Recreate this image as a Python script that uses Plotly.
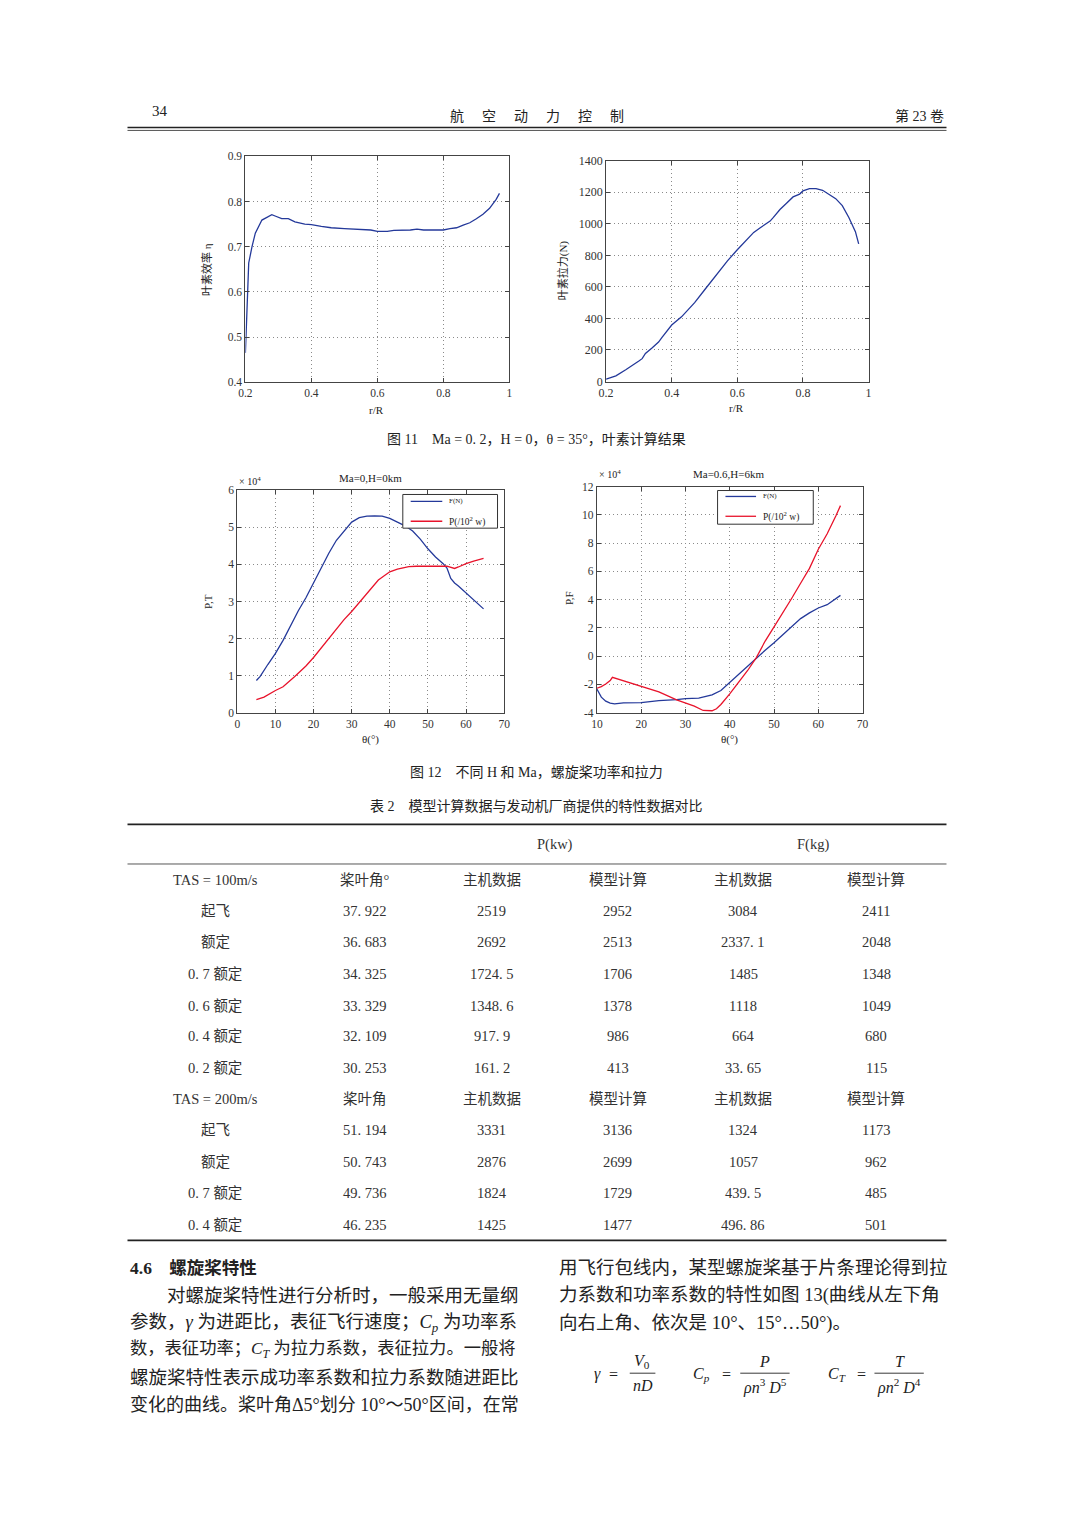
import plotly.graph_objects as go

# page is 1071x1515; the browser body keeps its default 8px margin,
# so the figure is 16px smaller and every position is shifted by 8px.
PAGE_W, PAGE_H = 1071, 1515
M = 8
W, H = PAGE_W - 2 * M, PAGE_H - 2 * M
SERIF = "Liberation Serif, Noto Sans CJK SC, serif"
TXT = "#222222"
BLUE = "#24399a"
RED = "#e8132b"

# ---------------- data ----------------
# Fig 11 left: blade element efficiency vs r/R
r1 = [0.20, 0.21, 0.22, 0.23, 0.25, 0.27, 0.28, 0.29, 0.31, 0.33, 0.35, 0.38, 0.40, 0.43,
      0.46, 0.50, 0.53, 0.55, 0.58, 0.60, 0.63, 0.65, 0.68, 0.70, 0.72, 0.74, 0.77, 0.80,
      0.82, 0.84, 0.86, 0.88, 0.90, 0.92, 0.94, 0.96, 0.97]
eta = [0.465, 0.664, 0.700, 0.730, 0.759, 0.768, 0.771, 0.768, 0.762, 0.762, 0.755, 0.750,
       0.749, 0.745, 0.742, 0.740, 0.739, 0.737, 0.737, 0.734, 0.734, 0.736, 0.736, 0.737,
       0.739, 0.737, 0.737, 0.737, 0.740, 0.742, 0.748, 0.753, 0.762, 0.772, 0.785, 0.805, 0.818]

# Fig 11 right: blade element thrust (N) vs r/R
r2 = [0.20, 0.23, 0.26, 0.28, 0.30, 0.31, 0.32, 0.34, 0.36, 0.37, 0.39, 0.40, 0.43, 0.45,
      0.47, 0.50, 0.53, 0.55, 0.57, 0.60, 0.63, 0.65, 0.67, 0.70, 0.71, 0.73, 0.75, 0.77,
      0.79, 0.80, 0.82, 0.84, 0.86, 0.88, 0.90, 0.92, 0.94, 0.96, 0.97]
thrust = [15, 36, 75, 100, 130, 145, 178, 212, 250, 278, 330, 358, 410, 455, 500, 580, 660,
          712, 765, 835, 900, 945, 975, 1017, 1040, 1090, 1130, 1170, 1188, 1208, 1222, 1222,
          1212, 1188, 1159, 1115, 1040, 950, 872]

# Fig 12 left: Ma=0, H=0km
th3_F = [5, 6, 8, 10, 12, 14, 16, 18, 20, 22, 24, 26, 28, 30, 32, 34, 36, 38, 40, 42, 44,
         46, 48, 50, 52, 54, 55, 56, 57, 58, 60, 62, 64, 64.6]
F3 = [8700, 9800, 13000, 16000, 19500, 23500, 27500, 31000, 35000, 39000, 43000, 46500,
      49000, 51400, 52600, 53000, 53100, 53000, 52400, 51400, 50400, 49000, 46800, 44200,
      42000, 40200, 39000, 36200, 35000, 34200, 32400, 30500, 28800, 28000]
th3_P = [5, 7, 10, 12, 15, 18, 20, 22, 25, 28, 30, 33, 35, 37, 40, 42, 45, 47, 55, 56, 57,
         58, 59, 60, 62, 64, 64.6]
P3 = [3500, 4200, 6000, 7000, 9700, 12600, 14900, 17500, 21100, 25100, 27300, 30900, 33100,
      35800, 38000, 38700, 39400, 39500, 39500, 39200, 38900, 39300, 39800, 40200, 40900,
      41300, 41600]

# Fig 12 right: Ma=0.6, H=6km
th4_F = [10, 11, 12, 13, 14, 16, 20, 24, 28, 30, 33, 36, 38, 40, 42, 44, 46, 48, 50, 52, 54,
         56, 58, 60, 62, 64, 65]
F4 = [-23200, -29000, -31800, -33200, -33700, -33000, -32800, -31400, -30700, -30000,
      -29700, -27400, -24300, -18500, -12700, -6800, -1000, 4200, 9500, 15400, 21200, 26600,
      30600, 34100, 36400, 40600, 43000]
th4_P = [10, 11, 12, 13, 13.5, 14, 16, 20, 24, 28, 30, 32, 34, 36, 37, 38, 40, 42, 44, 46,
         48, 50, 52, 54, 56, 58, 60, 62, 64, 65]
P4 = [-22700, -21500, -19700, -17300, -15000, -15500, -17300, -21300, -25300, -30900,
      -33000, -35300, -38400, -38600, -37200, -34200, -26700, -18500, -10300, -1000, 10700,
      20700, 30600, 41000, 51600, 62100, 75700, 86600, 99500, 106500]

legend_names = ["F(N)", "P(/10<sup>2</sup> w)"]

# Table 2
tab_rows = [
    ["TAS = 100m/s", "桨叶角°", "主机数据", "模型计算", "主机数据", "模型计算"],
    ["起飞", "37. 922", "2519", "2952", "3084", "2411"],
    ["额定", "36. 683", "2692", "2513", "2337. 1", "2048"],
    ["0. 7 额定", "34. 325", "1724. 5", "1706", "1485", "1348"],
    ["0. 6 额定", "33. 329", "1348. 6", "1378", "1118", "1049"],
    ["0. 4 额定", "32. 109", "917. 9", "986", "664", "680"],
    ["0. 2 额定", "30. 253", "161. 2", "413", "33. 65", "115"],
    ["TAS = 200m/s", "桨叶角", "主机数据", "模型计算", "主机数据", "模型计算"],
    ["起飞", "51. 194", "3331", "3136", "1324", "1173"],
    ["额定", "50. 743", "2876", "2699", "1057", "962"],
    ["0. 7 额定", "49. 736", "1824", "1729", "439. 5", "485"],
    ["0. 4 额定", "46. 235", "1425", "1477", "496. 86", "501"],
]
tab_groups = ["P(kw)", "F(kg)"]

left_text = [
    "<b>4.6　螺旋桨特性</b>",
    "　　对螺旋桨特性进行分析时，一般采用无量纲",
    "参数，<i>γ</i> 为进距比，表征飞行速度；<i>C<sub>p</sub></i> 为功率系",
    "数，表征功率；<i>C<sub>T</sub></i> 为拉力系数，表征拉力。一般将",
    "螺旋桨特性表示成功率系数和拉力系数随进距比",
    "变化的曲线。桨叶角Δ5°划分 10°～50°区间，在常",
]
left_sizes = [17.5, 18.5, 18.5, 17.3, 18.5, 18]
right_text = [
    "用飞行包线内，某型螺旋桨基于片条理论得到拉",
    "力系数和功率系数的特性如图 13(曲线从左下角",
    "向右上角、依次是 10°、15°…50°)。",
]

# ---------------- helpers ----------------
def px(x):
    return (x - M) / W

def py(y):
    return 1 - (y - M) / H

annotations = []
shapes = []

def text(x, y, s, size=14, anchor="center", angle=0, color=TXT, family=SERIF):
    annotations.append(dict(x=px(x), y=py(y), xref="paper", yref="paper", text=s,
                            showarrow=False, xanchor=anchor, yanchor="middle",
                            textangle=angle, font=dict(size=size, color=color, family=family)))

def hline(x0, x1, y, w=1, color="#222"):
    shapes.append(dict(type="line", xref="paper", yref="paper", x0=px(x0), x1=px(x1),
                       y0=py(y), y1=py(y), line=dict(color=color, width=w)))

def box(x0, y0, x1, y1):
    shapes.append(dict(type="rect", xref="paper", yref="paper", x0=px(x0), x1=px(x1),
                       y0=py(y1), y1=py(y0), line=dict(color="#333", width=1),
                       fillcolor="white", layer="above"))

def legend(x0, y0, x1, y1, yF, yP, lx0, lx1):
    box(x0, y0, x1, y1)
    shapes.append(dict(type="line", xref="paper", yref="paper", x0=px(lx0), x1=px(lx1),
                       y0=py(yF), y1=py(yF), line=dict(color=BLUE, width=1.3), layer="above"))
    shapes.append(dict(type="line", xref="paper", yref="paper", x0=px(lx0), x1=px(lx1),
                       y0=py(yP), y1=py(yP), line=dict(color=RED, width=1.3), layer="above"))
    text(lx1 + 5, yF, legend_names[0], 7, anchor="left")
    text(lx1 + 5, yP, legend_names[1], 9.5, anchor="left")

fig = go.Figure()

fig.add_trace(go.Scatter(x=r1, y=eta, mode="lines", line=dict(color=BLUE, width=1.3),
                         xaxis="x", yaxis="y"))
fig.add_trace(go.Scatter(x=r2, y=thrust, mode="lines", line=dict(color=BLUE, width=1.3),
                         xaxis="x2", yaxis="y2"))
fig.add_trace(go.Scatter(x=th3_F, y=F3, mode="lines", line=dict(color=BLUE, width=1.3),
                         xaxis="x3", yaxis="y3", name=legend_names[0]))
fig.add_trace(go.Scatter(x=th3_P, y=P3, mode="lines", line=dict(color=RED, width=1.3),
                         xaxis="x3", yaxis="y3", name=legend_names[1]))
fig.add_trace(go.Scatter(x=th4_F, y=F4, mode="lines", line=dict(color=BLUE, width=1.3),
                         xaxis="x4", yaxis="y4", name=legend_names[0]))
fig.add_trace(go.Scatter(x=th4_P, y=P4, mode="lines", line=dict(color=RED, width=1.3),
                         xaxis="x4", yaxis="y4", name=legend_names[1]))

def ax(domain, rng, dtick=None, tickvals=None, ticktext=None, anchor=None, fmt=None, fs=11.5):
    d = dict(domain=domain, range=rng, showline=True, mirror="ticks", linecolor="#444",
             linewidth=1, ticks="inside", ticklen=4, tickcolor="#444", showgrid=True,
             gridcolor="#8a8a8a", griddash="1px,3px", gridwidth=1, zeroline=False,
             tickfont=dict(family=SERIF, size=fs, color="#333"), anchor=anchor)
    if dtick is not None:
        d["dtick"] = dtick
        d["tick0"] = rng[0]
    if tickvals is not None:
        d["tickvals"] = tickvals
        d["ticktext"] = ticktext
    if fmt:
        d["tickformat"] = fmt
    return d

d1x = [px(240.5), px(508)]
d1y = [py(378.7), py(150.7)]
d2x = [px(606), px(872)]
d2y = [py(378), py(155)]
d3x = [px(232.3), px(502.7)]
d3y = [py(712.3), py(487.7)]
d4x = [px(596.7), px(866)]
d4y = [py(712.3), py(484)]

y3vals = [0, 10000, 20000, 30000, 40000, 50000, 60000]
y4vals = [-40000, -20000, 0, 20000, 40000, 60000, 80000, 100000, 120000]

fig.update_layout(
    width=W, height=H, margin=dict(l=0, r=0, t=0, b=0),
    paper_bgcolor="white", plot_bgcolor="white", showlegend=False,
    xaxis=ax(d1x, [0.2, 1.0], 0.2, anchor="y"),
    yaxis=ax(d1y, [0.4, 0.9], 0.1, anchor="x"),
    xaxis2=ax(d2x, [0.2, 1.0], 0.2, anchor="y2", fs=12),
    yaxis2=ax(d2y, [0, 1400], 200, anchor="x2", fmt="d", fs=12),
    xaxis3=ax(d3x, [0, 70], 10, anchor="y3"),
    yaxis3=ax(d3y, [0, 60000], tickvals=y3vals, ticktext=[str(v // 10000) for v in y3vals],
              anchor="x3"),
    xaxis4=ax(d4x, [10, 70], 10, anchor="y4"),
    yaxis4=ax(d4y, [-40000, 120000], tickvals=y4vals,
              ticktext=[str(v // 10000) for v in y4vals], anchor="x4"),
)

# legends (drawn in the MATLAB style boxes)
legend(400, 492, 496, 526, 499, 519, 408, 440)
legend(719, 488, 816, 522, 494, 514, 727, 758)

# axis titles & plot labels
text(201, 265, "叶素效率 η", 11, angle=-90)
text(562, 266, "叶素拉力(N)", 11, angle=-90)
text(373, 407, "r/R", 11)
text(738, 405, "r/R", 11)
text(203, 600, "P,T", 11, angle=-90)
text(569, 597, "P,F", 11, angle=-90)
text(367, 739, "θ(°)", 11)
text(731, 739, "θ(°)", 11)
text(367, 475, "Ma=0,H=0km", 11)
text(731, 471, "Ma=0.6,H=6km", 11)
text(232, 478, "× 10<sup>4</sup>", 10, anchor="left")
text(597, 471, "× 10<sup>4</sup>", 10, anchor="left")

# header
text(144, 105, "34", 15, anchor="left")
for i, ch in enumerate("航空动力控制"):
    text(455 + i * 32.5, 110, ch, 14)
text(951, 110, "第 23 卷", 14, anchor="right")
hline(121, 951, 121.5, 1.6)
hline(121, 951, 124.5, 0.8)

# captions
text(536, 437, "图 11　Ma = 0. 2，H = 0，θ = 35°，叶素计算结果", 14)
text(536, 772, "图 12　不同 H 和 Ma，螺旋桨功率和拉力", 14)
text(536, 807, "表 2　模型计算数据与发动机厂商提供的特性数据对比", 14)

# table
hline(121, 951, 825, 1.8)
hline(121, 951, 865, 0.9, "#444")
hline(121, 951, 1245, 1.8)
text(554, 845, tab_groups[0], 14.5, color="#333")
text(816, 845, tab_groups[1], 14.5, color="#333")
col_x = [210, 362, 490, 618, 745, 880]
row_y = [881, 912, 944, 976, 1008, 1039, 1071, 1102, 1134, 1166, 1197, 1229]
for ry, row in zip(row_y, tab_rows):
    for cx, cell in zip(col_x, row):
        text(cx, ry, cell, 14.5, color="#333")

# body text
body_y = [1273, 1301, 1329, 1356, 1384, 1411]
for yy, s, fs in zip(body_y, left_text, left_sizes):
    text(121, yy, s, fs, anchor="left")
for yy, s in zip(body_y, right_text):
    text(556, yy, s, 18.5, anchor="left")

# formulas
FS = 16
text(597, 1380, "<i>γ</i>", FS)
text(614, 1380, "=", FS)
text(642, 1367, "<i>V</i><sub>0</sub>", FS)
hline(630, 656, 1379, 0.9)
text(643, 1391, "<i>nD</i>", FS)

text(703, 1380, "<i>C</i><sub><i>p</i></sub>", FS)
text(728, 1380, "=", FS)
text(767, 1367, "<i>P</i>", FS)
hline(742, 792, 1379, 0.9)
text(767, 1392, "<i>ρn</i><sup>3</sup> <i>D</i><sup>5</sup>", FS)

text(840, 1380, "<i>C</i><sub><i>T</i></sub>", FS)
text(865, 1380, "=", FS)
text(904, 1367, "<i>T</i>", FS)
hline(878, 928, 1379, 0.9)
text(903, 1392, "<i>ρn</i><sup>2</sup> <i>D</i><sup>4</sup>", FS)

fig.update_layout(annotations=annotations, shapes=shapes)
fig.write_html("out.html", config={"displayModeBar": False})
